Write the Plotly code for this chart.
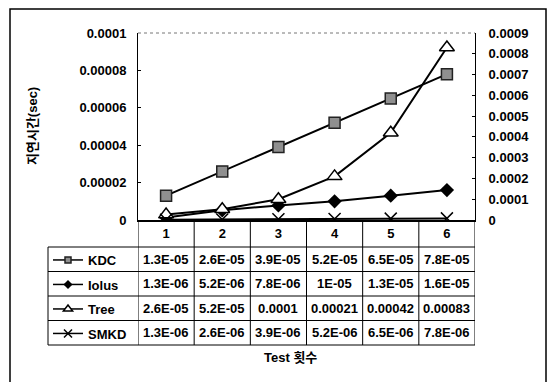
import plotly.graph_objects as go

# ---------------- data ----------------
tests = [1, 2, 3, 4, 5, 6]
kdc = [1.3e-5, 2.6e-5, 3.9e-5, 5.2e-5, 6.5e-5, 7.8e-5]
iolus = [1.3e-6, 5.2e-6, 7.8e-6, 1e-5, 1.3e-5, 1.6e-5]
tree = [2.6e-5, 5.2e-5, 1e-4, 2.1e-4, 4.2e-4, 8.3e-4]
smkd = [1.3e-6, 2.6e-6, 3.9e-6, 5.2e-6, 6.5e-6, 7.8e-6]

y1_ticks = [0, 0.00002, 0.00004, 0.00006, 0.00008, 0.0001]
y1_labels = ["0", "0.00002", "0.00004", "0.00006", "0.00008", "0.0001"]
y2_ticks = [0, 0.0001, 0.0002, 0.0003, 0.0004, 0.0005, 0.0006, 0.0007, 0.0008, 0.0009]
y2_labels = ["0", "0.0001", "0.0002", "0.0003", "0.0004", "0.0005", "0.0006",
             "0.0007", "0.0008", "0.0009"]

series_names = ["KDC", "Iolus", "Tree", "SMKD"]
y_title = "지연시간(sec)"
x_title = "Test 횟수"

# ---------------- layout constants (pixels) ----------------
W, H = 547, 382
PL, PR, PT, PB = 138, 475, 33, 220          # plot area
TBL_LEFT = 48
ROW_TOP = 247
ROW_H = 24.5

FONT = "Arial, 'Liberation Sans', 'Noto Sans CJK KR', sans-serif"


def px(p):
    return (p - PL) / (PR - PL)


def py(p):
    return (PB - p) / (PB - PT)


def excel_general(v):
    if v >= 1e-4:
        return f"{v:.5f}".rstrip("0")
    s = f"{v:.1E}"
    return s.replace(".0E", "E")


line = dict(color="black", width=2)
styles = [
    dict(symbol="square", color="#8f8f8f", line=dict(color="#222", width=1.5)),
    dict(symbol="diamond", color="black", line=dict(color="black", width=0)),
    dict(symbol="triangle-up", color="white", line=dict(color="black", width=1.5)),
    dict(symbol="x-thin", color="black", line=dict(color="black", width=1.5)),
]
plot_sizes = [11, 11, 13, 12]
legend_sizes = [6, 7, 8, 8]
axes = ["y", "y", "y2", "y2"]

fig = go.Figure()
for name, vals, st, ps, ls, ax in zip(series_names, [kdc, iolus, tree, smkd],
                                      styles, plot_sizes, legend_sizes, axes):
    fig.add_trace(go.Scatter(x=tests, y=vals, name=name, mode="lines+markers",
                             line=line, yaxis=ax, showlegend=False,
                             marker=dict(size=ps, **st)))
    # legend key (no data points) with smaller marker, as in the data-table legend
    fig.add_trace(go.Scatter(x=[None], y=[None], name=name, mode="lines+markers",
                             line=dict(color="black", width=1.5), yaxis=ax,
                             legendgroup=name, showlegend=True,
                             marker=dict(size=ls, **st)))

shapes = []
# outer frame
shapes.append(dict(type="rect", xref="paper", yref="paper",
                   x0=px(10), x1=px(546), y0=py(395), y1=py(9),
                   line=dict(color="black", width=1.5), layer="below"))
# dotted top border of plot area
shapes.append(dict(type="line", xref="paper", yref="paper",
                   x0=0, x1=1, y0=1, y1=1,
                   line=dict(color="#777", width=1, dash="dot")))
# table horizontal lines
table_bottom = ROW_TOP + ROW_H * len(series_names)
for i in range(len(series_names) + 1):
    yy = ROW_TOP + i * ROW_H
    shapes.append(dict(type="line", xref="paper", yref="paper",
                       x0=px(TBL_LEFT), x1=1, y0=py(yy), y1=py(yy),
                       line=dict(color="black", width=1)))
# table vertical lines
shapes.append(dict(type="line", xref="paper", yref="paper",
                   x0=px(TBL_LEFT), x1=px(TBL_LEFT), y0=py(ROW_TOP), y1=py(table_bottom),
                   line=dict(color="black", width=1)))
for k in range(len(tests) + 1):
    xx = tests[0] - 0.5 + k
    shapes.append(dict(type="line", xref="x", yref="paper",
                       x0=xx, x1=xx, y0=0, y1=py(table_bottom),
                       line=dict(color="black", width=1)))

annotations = []
for r, vals in enumerate([kdc, iolus, tree, smkd]):
    yc = ROW_TOP + (r + 0.5) * ROW_H
    for t, v in zip(tests, vals):
        annotations.append(dict(x=t, y=py(yc), xref="x", yref="paper",
                                text=excel_general(v), showarrow=False,
                                font=dict(size=13, family=FONT, color="black", weight="bold"),
                                xanchor="center", yanchor="middle"))
annotations.append(dict(x=px(32), y=py(126), xref="paper", yref="paper",
                        text=y_title, textangle=-90, showarrow=False,
                        font=dict(size=13, family=FONT, color="black", weight="bold"),
                        xanchor="center", yanchor="middle"))
annotations.append(dict(x=px(290), y=py(358), xref="paper", yref="paper",
                        text=x_title, showarrow=False,
                        font=dict(size=13, family=FONT, color="black", weight="bold"),
                        xanchor="center", yanchor="middle"))

fig.update_layout(
    width=W, height=H,
    margin=dict(l=PL, r=W - PR, t=PT, b=H - PB, pad=0),
    paper_bgcolor="white", plot_bgcolor="white",
    font=dict(family=FONT, size=13, color="black", weight="bold"),
    showlegend=True,
    legend=dict(x=px(TBL_LEFT), y=py(ROW_TOP - 2), xanchor="left", yanchor="top",
                bgcolor="rgba(0,0,0,0)", borderwidth=0, tracegroupgap=4.6,
                traceorder="grouped", itemsizing="trace",
                font=dict(size=13, family=FONT, color="black", weight="bold")),
    xaxis=dict(range=[0.5, 6.5], tickvals=tests, ticktext=[str(t) for t in tests],
               showgrid=False, zeroline=False, showline=True, linecolor="black",
               linewidth=2, ticks="", ticklabelstandoff=0),
    yaxis=dict(range=[0, 0.0001], tickvals=y1_ticks, ticktext=y1_labels,
               showgrid=False, zeroline=False, showline=True, linecolor="black",
               linewidth=1, ticks="inside", ticklen=3, tickcolor="black",
               ticklabelstandoff=8),
    yaxis2=dict(range=[0, 0.0009], tickvals=y2_ticks, ticktext=y2_labels,
                overlaying="y", side="right", showgrid=False, zeroline=False,
                showline=True, linecolor="black", linewidth=1, ticks="inside",
                ticklen=3, tickcolor="black", ticklabelstandoff=10),
    shapes=shapes,
    annotations=annotations,
)

fig.write_html("out.html")
